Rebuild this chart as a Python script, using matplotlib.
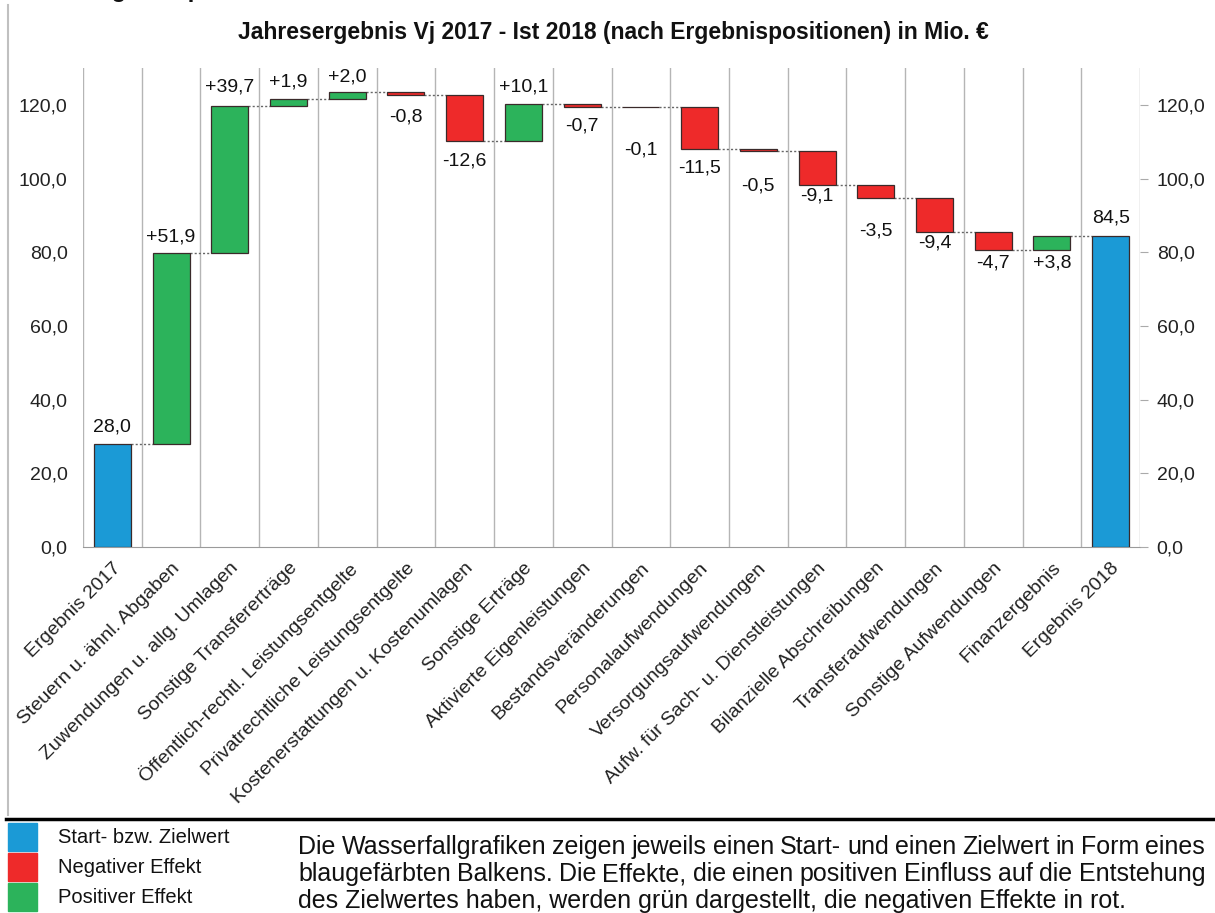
import numpy as np
import matplotlib
matplotlib.use("Agg")
import matplotlib.pyplot as plt
from matplotlib.lines import Line2D
from matplotlib.patches import Rectangle

plt.rcParams['font.family'] = ['Liberation Sans', 'DejaVu Sans']

categories = ["Ergebnis 2017", "Steuern u. ähnl. Abgaben", "Zuwendungen u. allg. Umlagen",
              "Sonstige Transfererträge", "Öffentlich-rechtl. Leistungsentgelte",
              "Privatrechtliche Leistungsentgelte", "Kostenerstattungen u. Kostenumlagen",
              "Sonstige Erträge", "Aktivierte Eigenleistungen", "Bestandsveränderungen",
              "Personalaufwendungen", "Versorgungsaufwendungen", "Aufw. für Sach- u. Dienstleistungen",
              "Bilanzielle Abschreibungen", "Transferaufwendungen", "Sonstige Aufwendungen",
              "Finanzergebnis", "Ergebnis 2018"]
start_value = 28.0
changes = [51.9, 39.7, 1.9, 2.0, -0.8, -12.6, 10.1, -0.7, -0.1, -11.5, -0.5,
           -9.1, -3.5, -9.4, -4.7, 3.8]
end_value = 84.5

# label placement (pixels from the bar edge), taken from the original layout
label_edge = ['top', 'top', 'top', 'top', 'top', 'bottom', 'bottom', 'top', 'bottom', 'bottom',
              'bottom', 'bottom', 'bottom', 'bottom', 'bottom', 'bottom', 'bottom', 'top']
label_off = [17, 16, 19, 17, 15, -22, -20, 17, -19, -43, -19, -35, -11, -33, -11, -13, -13, 18]

BLUE = '#1B9AD6'
RED = '#EE2A2A'
GREEN = '#2CB35B'

W, H = 1215, 913
fig = plt.figure(figsize=(W / 100, H / 100), dpi=100)
ax = fig.add_axes([83 / W, 1 - 547 / H, (1140 - 83) / W, (547 - 68) / H])

n = len(categories)
x = np.arange(n)
bottoms, heights, colors = [], [], []
running = start_value
bottoms.append(0); heights.append(start_value); colors.append(BLUE)
levels = [start_value]
for c in changes:
    if c >= 0:
        bottoms.append(running); heights.append(c); colors.append(GREEN)
    else:
        bottoms.append(running + c); heights.append(-c); colors.append(RED)
    running += c
    levels.append(running)
bottoms.append(0); heights.append(end_value); colors.append(BLUE)
levels.append(end_value)

bw = 0.63
ax.bar(x, heights, bottom=bottoms, width=bw, color=colors, edgecolor='#3a2a2a',
       linewidth=0.9, zorder=3)

# connectors
for i in range(n - 1):
    ax.plot([x[i] + bw / 2, x[i + 1] - bw / 2], [levels[i], levels[i]],
            color='#666666', lw=1.0, ls=(0, (1.5, 1.5)), zorder=2)

# value labels
vals = [start_value] + changes + [end_value]
for i, v in enumerate(vals):
    if i == 0 or i == n - 1:
        txt = f"{v:.1f}".replace('.', ',')
    else:
        txt = f"{v:+.1f}".replace('.', ',')
    y = bottoms[i] + heights[i] if label_edge[i] == 'top' else bottoms[i]
    ax.annotate(txt, (x[i], y), xytext=(0, label_off[i]), textcoords='offset pixels',
                ha='center', va='center', fontsize=14, color='#111111', zorder=4)

ax.set_xlim(-0.5, n - 0.5)
ax.set_ylim(0, 130)
yt = np.arange(0, 121, 20)
ax.set_yticks(yt)
ax.set_yticklabels([f"{t:.1f}".replace('.', ',') for t in yt], fontsize=14)
ax.tick_params(axis='y', length=0, pad=11, colors='#222222')
ax.set_xticks(x)
ax.set_xticklabels(categories, rotation=45, ha='right', rotation_mode='anchor',
                   fontsize=14, color='#222222')
ax.tick_params(axis='x', length=0, pad=9)
ax.set_xticks(np.arange(-0.5, n, 1), minor=True)
ax.tick_params(axis='x', which='minor', length=0)
ax.grid(True, which='minor', axis='x', color='#b5b5b5', lw=1.0, zorder=0)
for s in ['top', 'left', 'right']:
    ax.spines[s].set_visible(False)
ax.spines['bottom'].set_color('#9a9a9a')

ax2 = ax.twinx()
ax2.set_ylim(0, 130)
ax2.set_yticks(yt)
ax2.set_yticklabels([f"{t:.1f}".replace('.', ',') for t in yt], fontsize=14, color='#222222')
ax2.tick_params(axis='y', length=6, color='#aaaaaa', pad=6)
for s in ['top', 'left', 'right', 'bottom']:
    ax2.spines[s].set_visible(False)

fig.text(613 / W, 1 - 33 / H, "Jahresergebnis Vj 2017 - Ist 2018 (nach Ergebnispositionen) in Mio. €",
         ha='center', va='center', fontsize=16.5, fontweight='bold', color='#111111')
# heading cut off at the top of the page
fig.text(22 / W, 1 + 3 / H, "Nach Ergebnispositionen", ha='left', va='baseline',
         fontsize=17, fontweight='bold', color='#111111')

# frame lines
fig.add_artist(Line2D([8 / W, 8 / W], [1 - 5 / H, 1 - 815 / H], color='#c0c0c0', lw=1.5,
                      transform=fig.transFigure))
fig.add_artist(Line2D([6 / W, 1], [1 - 819 / H, 1 - 819 / H], color='black', lw=2.5,
                      transform=fig.transFigure))

# legend
legend_items = [("Start- bzw. Zielwert", BLUE, 823), ("Negativer Effekt", RED, 853),
                ("Positiver Effekt", GREEN, 883)]
for lab, col, ytop in legend_items:
    fig.add_artist(Rectangle((8 / W, 1 - (ytop + 28) / H), 29 / W, 28 / H, color=col,
                             transform=fig.transFigure))
    fig.text(58 / W, 1 - (ytop + 14) / H, lab, ha='left', va='center', fontsize=14.5,
             color='#111111')

# justified description text
desc_lines = ["Die Wasserfallgrafiken zeigen jeweils einen Start- und einen Zielwert in Form eines",
              "blaugefärbten Balkens. Die Effekte, die einen positiven Einfluss auf die Entstehung",
              "des Zielwertes haben, werden grün dargestellt, die negativen Effekte in rot."]
x0, x1 = 298, 1205
line_y = [847, 874, 901]
renderer = fig.canvas.get_renderer()
for k, line in enumerate(desc_lines):
    words = line.split(' ')
    yfig = 1 - line_y[k] / H
    if k == len(desc_lines) - 1:
        fig.text(x0 / W, yfig, line, ha='left', va='center', fontsize=18, color='#111111')
        continue
    objs = [fig.text(0, yfig, w_, ha='left', va='center', fontsize=18, color='#111111')
            for w_ in words]
    widths = [o.get_window_extent(renderer).width for o in objs]
    gap = (x1 - x0 - sum(widths)) / (len(words) - 1)
    cx = x0
    for o, w_ in zip(objs, widths):
        o.set_x(cx / W)
        cx += w_ + gap

fig.savefig('out.png', dpi=100)
